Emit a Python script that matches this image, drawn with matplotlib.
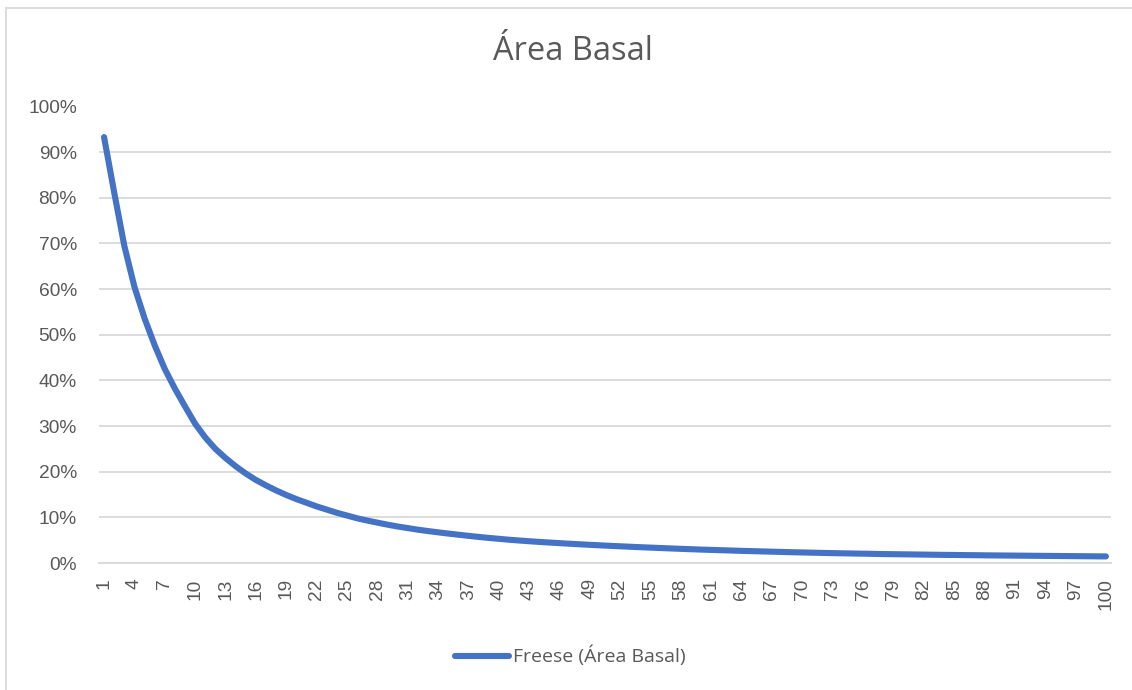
import matplotlib
matplotlib.use("Agg")
import matplotlib.pyplot as plt
from matplotlib.lines import Line2D
from matplotlib.ticker import PercentFormatter, FixedLocator

title = "Área Basal"
series_name = "Freese (Área Basal)"
categories = list(range(1, 101))
values = [
    93.3, 81.2, 69.5, 60.5, 53.6, 47.7, 42.5, 38.2, 34.3, 30.5,
    27.5, 25.0, 23.0, 21.2, 19.6, 18.2, 17.0, 15.9, 14.9, 14.0,
    13.2, 12.4, 11.7, 11.0, 10.4, 9.8, 9.3, 8.85, 8.4, 8.0,
    7.65, 7.3, 7.0, 6.72, 6.45, 6.2, 5.95, 5.72, 5.5, 5.3,
    5.1, 4.93, 4.77, 4.62, 4.48, 4.35, 4.22, 4.1, 3.98, 3.87,
    3.76, 3.66, 3.56, 3.46, 3.37, 3.28, 3.19, 3.1, 3.02, 2.94,
    2.87, 2.8, 2.73, 2.66, 2.6, 2.54, 2.48, 2.42, 2.36, 2.31,
    2.26, 2.21, 2.16, 2.12, 2.08, 2.04, 2.0, 1.96, 1.93, 1.9,
    1.87, 1.84, 1.81, 1.78, 1.76, 1.73, 1.71, 1.68, 1.66, 1.64,
    1.62, 1.6, 1.58, 1.56, 1.54, 1.52, 1.5, 1.48, 1.46, 1.44,
]
y_ticks = [0, 10, 20, 30, 40, 50, 60, 70, 80, 90, 100]
x_tick_labels = [c for c in categories if (c - 1) % 3 == 0]

TEXT = "#595959"
GRID = "#d9d9d9"
LINE = "#4472C4"

W, H = 1132, 690
fig = plt.figure(figsize=(W / 100, H / 100), dpi=100)
ax = fig.add_axes([99 / W, 1 - 563 / H, (1111 - 99) / W, (563 - 106.5) / H])

ax.plot(categories, values, color=LINE, lw=4.4, solid_capstyle="round",
        solid_joinstyle="round", zorder=3)

ax.set_xlim(0.5, 100.5)
ax.set_ylim(0, 100)
ax.yaxis.set_major_locator(FixedLocator(y_ticks))
ax.yaxis.set_major_formatter(PercentFormatter(decimals=0))
ax.set_xticks(x_tick_labels)
ax.set_xticklabels([str(c) for c in x_tick_labels], rotation=90)

tick_family = ["Liberation Sans", "DejaVu Sans"]
for lbl in ax.get_xticklabels() + ax.get_yticklabels():
    lbl.set_fontfamily(tick_family)
    lbl.set_fontsize(13.8)
    lbl.set_color(TEXT)

ax.tick_params(axis="y", length=0, pad=16)
ax.tick_params(axis="x", length=0, pad=11)
ax.grid(axis="y", color=GRID, lw=1.3, zorder=0)
for s in ["left", "right", "top"]:
    ax.spines[s].set_visible(False)
ax.spines["bottom"].set_color(GRID)
ax.spines["bottom"].set_linewidth(1.3)

fig.text(573 / W, 1 - 52 / H, title, ha="center", va="center",
         fontsize=23.5, color=TEXT,
         family=["Liberation Sans Narrow", "Open Sans", "DejaVu Sans"])

# legend
fig.add_artist(Line2D([455 / W, 509 / W], [1 - 656 / H, 1 - 656 / H],
                      color=LINE, lw=4.4, solid_capstyle="round"))
fig.text(513 / W, 1 - 656 / H, series_name, ha="left", va="center",
         fontsize=14, color=TEXT, family=["Open Sans", "DejaVu Sans"])

# chart border (left and top visible)
fig.add_artist(Line2D([5.5 / W, 5.5 / W], [0, 1 - 7.5 / H], color=GRID, lw=1.3))
fig.add_artist(Line2D([5.5 / W, 1], [1 - 7.5 / H, 1 - 7.5 / H], color=GRID, lw=1.3))

fig.savefig("out.png", dpi=100, facecolor="white")
